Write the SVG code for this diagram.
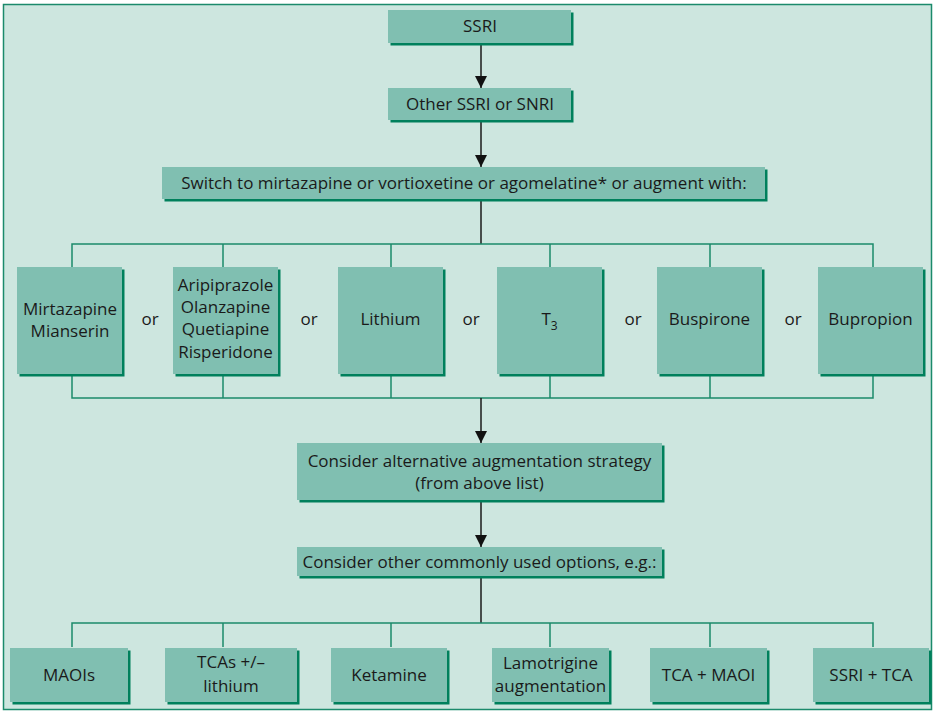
<svg xmlns="http://www.w3.org/2000/svg" width="934" height="712" viewBox="0 0 934 712">
  <defs>
    <style>
      .frame { fill: #cde6df; stroke: #1b8a6b; stroke-width: 1.5; }
      .shadow { fill: #00805c; }
      .box { fill: #80bfb1; }
      .bus { fill: none; stroke: #1b8a6b; stroke-width: 1.5; }
      .stem { fill: none; stroke: #1a1a1a; stroke-width: 1.5; }
      text { font-family: "Open Sans", "Noto Sans", "Liberation Sans", sans-serif; font-size: 17px; fill: #1a1a1a; text-anchor: middle; }
    </style>
    <marker id="arrow" viewBox="0 0 12 12" refX="12" refY="6" markerWidth="12" markerHeight="12" markerUnits="userSpaceOnUse" orient="auto">
      <path d="M0,0 L12,6 L0,12 Z" fill="#111"/>
    </marker>
  </defs>

  <!-- outer panel -->
  <rect class="frame" x="3.5" y="4.5" width="928" height="705"/>

  <!-- connectors -->
  <g id="connectors">
    <line class="stem" x1="481" y1="44" x2="481" y2="88" marker-end="url(#arrow)"/>
    <line class="stem" x1="481" y1="121" x2="481" y2="167" marker-end="url(#arrow)"/>
    <line class="stem" x1="481" y1="200" x2="481" y2="244"/>
    <path class="bus" d="M72,267 V244 H873 V267 M223,244 V267 M391,244 V267 M550,244 V267 M710,244 V267"/>
    <path class="bus" d="M72,376 V398 H873 V376 M223,376 V398 M391,376 V398 M550,376 V398 M710,376 V398"/>
    <line class="stem" x1="481" y1="398" x2="481" y2="443" marker-end="url(#arrow)"/>
    <line class="stem" x1="481" y1="502" x2="481" y2="547" marker-end="url(#arrow)"/>
    <line class="stem" x1="481" y1="578" x2="481" y2="623"/>
    <path class="bus" d="M72,647 V623 H873 V647 M223,623 V647 M391,623 V647 M550,623 V647 M710,623 V647"/>
  </g>

  <!-- top chain -->
  <g id="ssri">
    <rect class="shadow" x="390.5" y="12.5" width="183" height="33"/>
    <rect class="box" x="388" y="10" width="183" height="33"/>
    <text x="480" y="32">SSRI</text>
  </g>
  <g id="other-ssri">
    <rect class="shadow" x="390.5" y="90.5" width="183" height="32"/>
    <rect class="box" x="388" y="88" width="183" height="32"/>
    <text x="480" y="110">Other SSRI or SNRI</text>
  </g>
  <g id="switch">
    <rect class="shadow" x="164.5" y="169.5" width="603" height="32"/>
    <rect class="box" x="162" y="167" width="603" height="32"/>
    <text x="464" y="189">Switch to mirtazapine or vortioxetine or agomelatine* or augment with:</text>
  </g>

  <!-- augmentation options -->
  <g id="mirtazapine">
    <rect class="shadow" x="19.5" y="269.5" width="105" height="107"/>
    <rect class="box" x="17" y="267" width="105" height="107"/>
    <text x="70" y="315">Mirtazapine</text>
    <text x="70" y="337">Mianserin</text>
  </g>
  <g id="antipsychotics">
    <rect class="shadow" x="175.5" y="269.5" width="105" height="107"/>
    <rect class="box" x="173" y="267" width="105" height="107"/>
    <text x="225.5" y="291">Aripiprazole</text>
    <text x="225.5" y="313">Olanzapine</text>
    <text x="225.5" y="335">Quetiapine</text>
    <text x="225.5" y="358">Risperidone</text>
  </g>
  <g id="lithium">
    <rect class="shadow" x="340.5" y="269.5" width="105" height="107"/>
    <rect class="box" x="338" y="267" width="105" height="107"/>
    <text x="390.5" y="325">Lithium</text>
  </g>
  <g id="t3">
    <rect class="shadow" x="499.5" y="269.5" width="105" height="107"/>
    <rect class="box" x="497" y="267" width="105" height="107"/>
    <text x="549.5" y="325">T<tspan font-size="12" dy="5">3</tspan></text>
  </g>
  <g id="buspirone">
    <rect class="shadow" x="659.5" y="269.5" width="105" height="107"/>
    <rect class="box" x="657" y="267" width="105" height="107"/>
    <text x="709.5" y="325">Buspirone</text>
  </g>
  <g id="bupropion">
    <rect class="shadow" x="820.5" y="269.5" width="105" height="107"/>
    <rect class="box" x="818" y="267" width="105" height="107"/>
    <text x="870.5" y="325">Bupropion</text>
  </g>
  <g id="or-labels">
    <text x="150" y="325">or</text>
    <text x="309" y="325">or</text>
    <text x="471" y="325">or</text>
    <text x="633" y="325">or</text>
    <text x="793" y="325">or</text>
  </g>

  <!-- next steps -->
  <g id="alternative">
    <rect class="shadow" x="299.5" y="445.5" width="365" height="57"/>
    <rect class="box" x="297" y="443" width="365" height="57"/>
    <text x="479.5" y="467">Consider alternative augmentation strategy</text>
    <text x="479.5" y="489">(from above list)</text>
  </g>
  <g id="other-options">
    <rect class="shadow" x="299.5" y="549.5" width="365" height="29"/>
    <rect class="box" x="297" y="547" width="365" height="29"/>
    <text x="479.5" y="568">Consider other commonly used options, e.g.:</text>
  </g>

  <!-- other options row -->
  <g id="maois">
    <rect class="shadow" x="12.5" y="650.5" width="118" height="54"/>
    <rect class="box" x="10" y="648" width="118" height="54"/>
    <text x="69" y="681">MAOIs</text>
  </g>
  <g id="tcas">
    <rect class="shadow" x="167.5" y="650.5" width="132" height="54"/>
    <rect class="box" x="165" y="648" width="132" height="54"/>
    <text x="231" y="668">TCAs +/–</text>
    <text x="231" y="692">lithium</text>
  </g>
  <g id="ketamine">
    <rect class="shadow" x="333.5" y="650.5" width="116" height="54"/>
    <rect class="box" x="331" y="648" width="116" height="54"/>
    <text x="389" y="681">Ketamine</text>
  </g>
  <g id="lamotrigine">
    <rect class="shadow" x="494.5" y="650.5" width="117" height="54"/>
    <rect class="box" x="492" y="648" width="117" height="54"/>
    <text x="550.5" y="669">Lamotrigine</text>
    <text x="550.5" y="692">augmentation</text>
  </g>
  <g id="tca-maoi">
    <rect class="shadow" x="652.5" y="650.5" width="117" height="54"/>
    <rect class="box" x="650" y="648" width="117" height="54"/>
    <text x="708.5" y="681">TCA + MAOI</text>
  </g>
  <g id="ssri-tca">
    <rect class="shadow" x="815.5" y="650.5" width="116" height="54"/>
    <rect class="box" x="813" y="648" width="116" height="54"/>
    <text x="871" y="681">SSRI + TCA</text>
  </g>
</svg>
